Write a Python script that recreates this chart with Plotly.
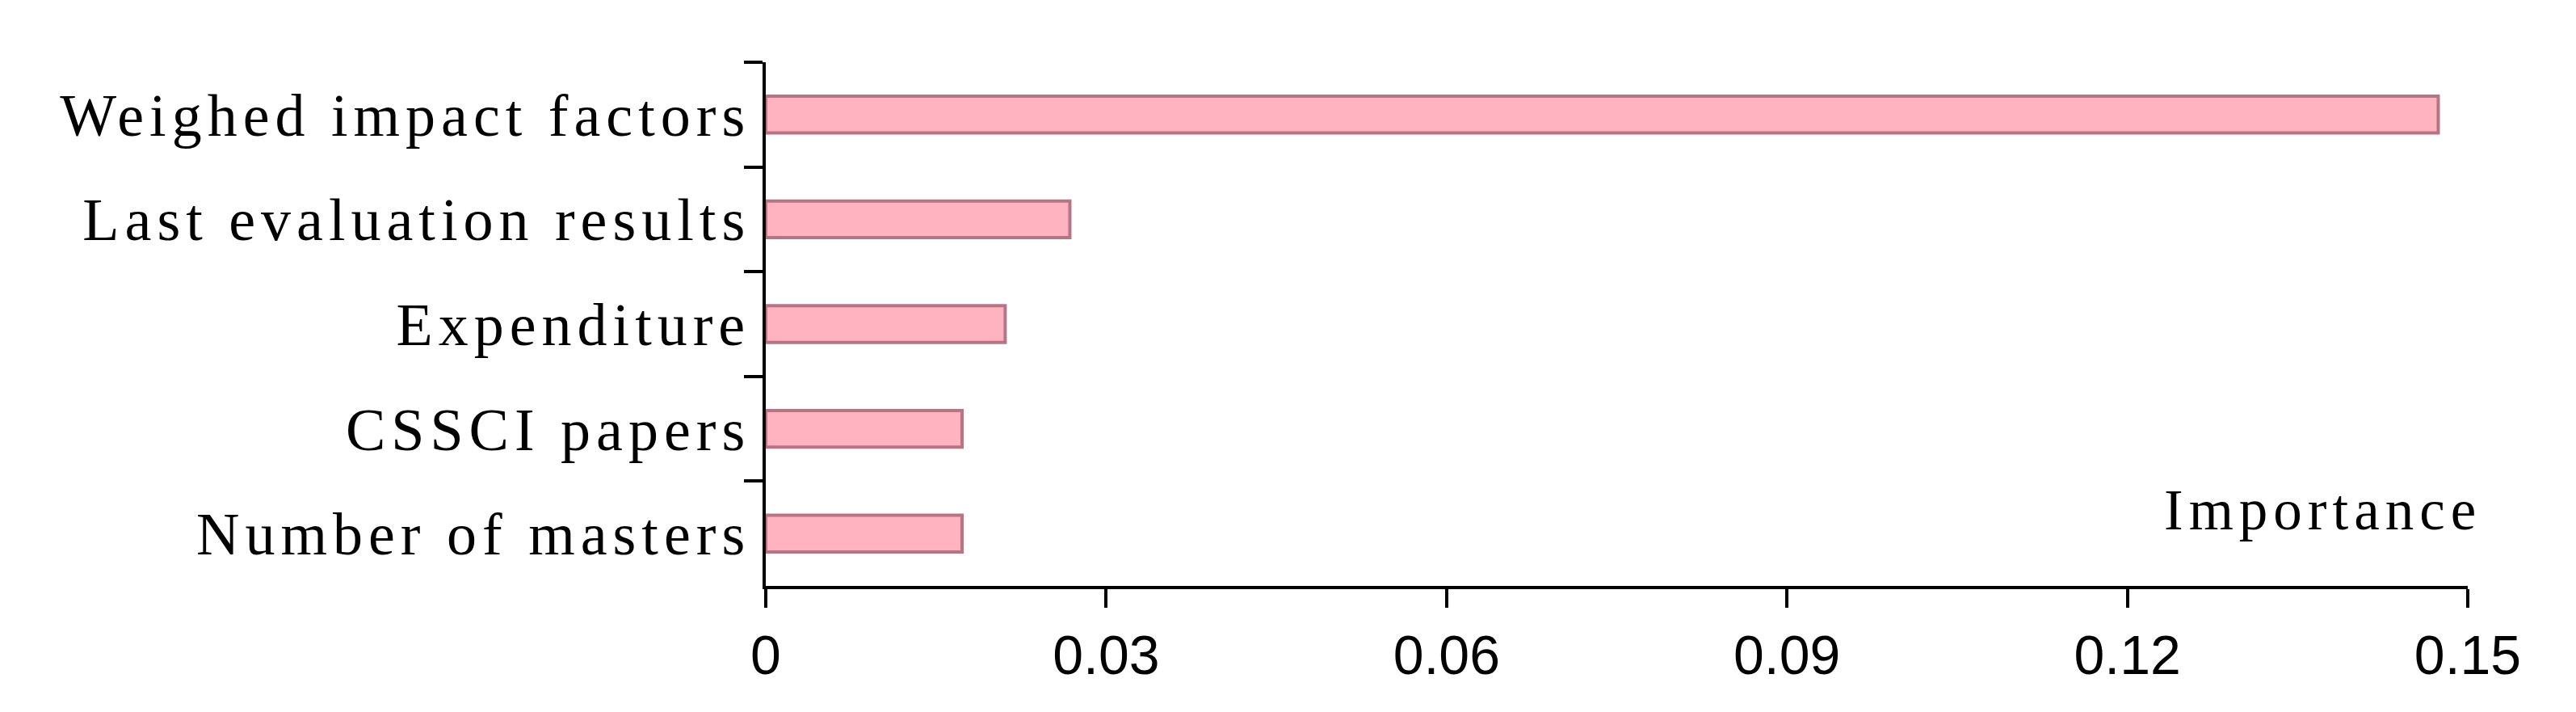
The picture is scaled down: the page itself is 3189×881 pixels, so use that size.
import plotly.graph_objects as go

# feature importance, top to bottom
features = [
    "Weighed impact factors",
    "Last evaluation results",
    "Expenditure",
    "CSSCI papers",
    "Number of masters",
]
importance = [0.1474, 0.0268, 0.0211, 0.0173, 0.0173]

x_ticks = [0, 0.03, 0.06, 0.09, 0.12, 0.15]
x_tick_labels = ["0", "0.03", "0.06", "0.09", "0.12", "0.15"]

fig = go.Figure(
    go.Bar(
        x=importance,
        y=features,
        orientation="h",
        width=0.35,
        marker=dict(color="#FFB2BF", line=dict(color="#B97484", width=4)),
    )
)

fig.update_layout(
    width=3189,
    height=881,
    margin=dict(l=940, r=142, t=69, b=164),
    plot_bgcolor="white",
    paper_bgcolor="white",
    showlegend=False,
)

fig.update_xaxes(
    range=[0, 0.15],
    tickvals=x_ticks,
    ticktext=x_tick_labels,
    showline=True,
    linecolor="black",
    linewidth=4,
    ticks="outside",
    ticklen=23,
    tickwidth=4,
    tickcolor="black",
    showgrid=False,
    zeroline=False,
    tickfont=dict(family="Liberation Sans", size=68, color="black"),
)

fig.update_yaxes(
    autorange="reversed",
    showline=True,
    linecolor="black",
    linewidth=4,
    ticks="outside",
    tickson="boundaries",
    ticklen=23,
    tickwidth=4,
    tickcolor="black",
    showgrid=False,
    zeroline=False,
    tickfont=dict(family="Liberation Serif", size=74, color="black"),
)

fig.add_annotation(
    text="Importance",
    xref="paper",
    yref="paper",
    x=0.915,
    y=0.145,
    xanchor="center",
    yanchor="middle",
    showarrow=False,
    font=dict(family="Liberation Serif", size=71, color="black"),
)

# wide letter spacing of the serif labels
post = """
var gd = document.getElementById('{plot_id}');
function spread() {
  document.querySelectorAll('.ytick text, .annotation-text').forEach(function (t) {
    t.style.letterSpacing = '7px';
  });
}
spread();
gd.on('plotly_afterplot', spread);
"""

fig.write_html("out.html", post_script=post)
